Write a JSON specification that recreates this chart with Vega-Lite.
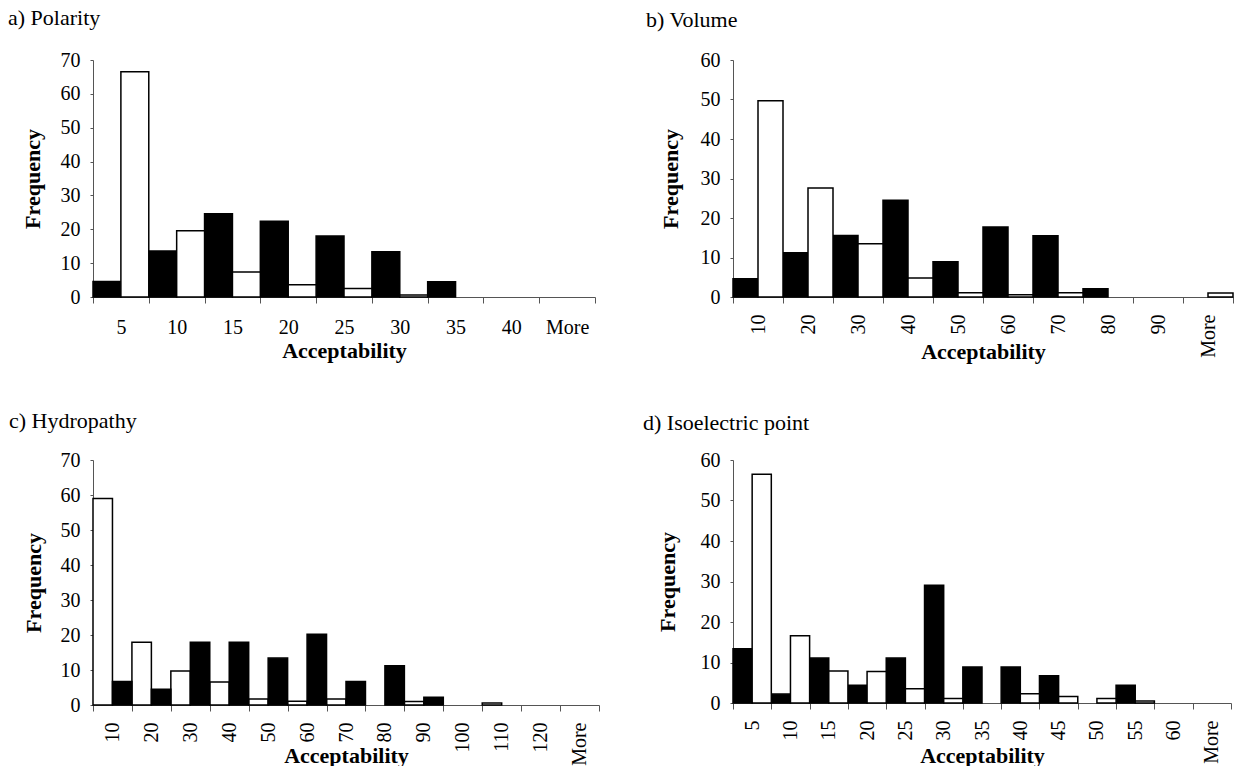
{
  "$schema": "https://vega.github.io/schema/vega-lite/v6.json",
  "background": "white",
  "padding": {"left": 8, "top": 7, "right": 5, "bottom": 0},
  "columns": 2,
  "bounds": "flush",
  "spacing": {"row": 163, "column": 134},
  "resolve": {"scale": {"x": "independent", "xOffset": "independent", "y": "independent", "fill": "independent"}},
  "data": {"values": [
    {"panel": "a", "bin": "5", "series": "Series 1", "freq": 4.6},
    {"panel": "a", "bin": "10", "series": "Series 1", "freq": 13.6},
    {"panel": "a", "bin": "15", "series": "Series 1", "freq": 24.6},
    {"panel": "a", "bin": "20", "series": "Series 1", "freq": 22.4},
    {"panel": "a", "bin": "25", "series": "Series 1", "freq": 18.0},
    {"panel": "a", "bin": "30", "series": "Series 1", "freq": 13.4},
    {"panel": "a", "bin": "35", "series": "Series 1", "freq": 4.5},
    {"panel": "a", "bin": "40", "series": "Series 1", "freq": 0},
    {"panel": "a", "bin": "More", "series": "Series 1", "freq": 0},
    {"panel": "a", "bin": "5", "series": "Series 2", "freq": 66.5},
    {"panel": "a", "bin": "10", "series": "Series 2", "freq": 19.6},
    {"panel": "a", "bin": "15", "series": "Series 2", "freq": 7.4},
    {"panel": "a", "bin": "20", "series": "Series 2", "freq": 3.6},
    {"panel": "a", "bin": "25", "series": "Series 2", "freq": 2.5},
    {"panel": "a", "bin": "30", "series": "Series 2", "freq": 0.6},
    {"panel": "a", "bin": "35", "series": "Series 2", "freq": 0},
    {"panel": "a", "bin": "40", "series": "Series 2", "freq": 0},
    {"panel": "a", "bin": "More", "series": "Series 2", "freq": 0},

    {"panel": "b", "bin": "10", "series": "Series 1", "freq": 4.6},
    {"panel": "b", "bin": "20", "series": "Series 1", "freq": 11.2},
    {"panel": "b", "bin": "30", "series": "Series 1", "freq": 15.6},
    {"panel": "b", "bin": "40", "series": "Series 1", "freq": 24.5},
    {"panel": "b", "bin": "50", "series": "Series 1", "freq": 8.9},
    {"panel": "b", "bin": "60", "series": "Series 1", "freq": 17.7},
    {"panel": "b", "bin": "70", "series": "Series 1", "freq": 15.5},
    {"panel": "b", "bin": "80", "series": "Series 1", "freq": 2.1},
    {"panel": "b", "bin": "90", "series": "Series 1", "freq": 0},
    {"panel": "b", "bin": "More", "series": "Series 1", "freq": 0},
    {"panel": "b", "bin": "10", "series": "Series 2", "freq": 49.7},
    {"panel": "b", "bin": "20", "series": "Series 2", "freq": 27.6},
    {"panel": "b", "bin": "30", "series": "Series 2", "freq": 13.5},
    {"panel": "b", "bin": "40", "series": "Series 2", "freq": 4.8},
    {"panel": "b", "bin": "50", "series": "Series 2", "freq": 1.1},
    {"panel": "b", "bin": "60", "series": "Series 2", "freq": 0.6},
    {"panel": "b", "bin": "70", "series": "Series 2", "freq": 1.1},
    {"panel": "b", "bin": "80", "series": "Series 2", "freq": 0},
    {"panel": "b", "bin": "90", "series": "Series 2", "freq": 0},
    {"panel": "b", "bin": "More", "series": "Series 2", "freq": 1.0},

    {"panel": "c", "bin": "10", "series": "Series 2", "freq": 59.0},
    {"panel": "c", "bin": "20", "series": "Series 2", "freq": 17.9},
    {"panel": "c", "bin": "30", "series": "Series 2", "freq": 9.7},
    {"panel": "c", "bin": "40", "series": "Series 2", "freq": 6.6},
    {"panel": "c", "bin": "50", "series": "Series 2", "freq": 1.7},
    {"panel": "c", "bin": "60", "series": "Series 2", "freq": 1.1},
    {"panel": "c", "bin": "70", "series": "Series 2", "freq": 1.7},
    {"panel": "c", "bin": "80", "series": "Series 2", "freq": 0},
    {"panel": "c", "bin": "90", "series": "Series 2", "freq": 1.0},
    {"panel": "c", "bin": "100", "series": "Series 2", "freq": 0},
    {"panel": "c", "bin": "110", "series": "Series 2", "freq": 0.6},
    {"panel": "c", "bin": "120", "series": "Series 2", "freq": 0},
    {"panel": "c", "bin": "More", "series": "Series 2", "freq": 0},
    {"panel": "c", "bin": "10", "series": "Series 1", "freq": 6.7},
    {"panel": "c", "bin": "20", "series": "Series 1", "freq": 4.5},
    {"panel": "c", "bin": "30", "series": "Series 1", "freq": 17.9},
    {"panel": "c", "bin": "40", "series": "Series 1", "freq": 17.9},
    {"panel": "c", "bin": "50", "series": "Series 1", "freq": 13.4},
    {"panel": "c", "bin": "60", "series": "Series 1", "freq": 20.2},
    {"panel": "c", "bin": "70", "series": "Series 1", "freq": 6.7},
    {"panel": "c", "bin": "80", "series": "Series 1", "freq": 11.2},
    {"panel": "c", "bin": "90", "series": "Series 1", "freq": 2.2},
    {"panel": "c", "bin": "100", "series": "Series 1", "freq": 0},
    {"panel": "c", "bin": "110", "series": "Series 1", "freq": 0},
    {"panel": "c", "bin": "120", "series": "Series 1", "freq": 0},
    {"panel": "c", "bin": "More", "series": "Series 1", "freq": 0},

    {"panel": "d", "bin": "5", "series": "Series 1", "freq": 13.4},
    {"panel": "d", "bin": "10", "series": "Series 1", "freq": 2.2},
    {"panel": "d", "bin": "15", "series": "Series 1", "freq": 11.1},
    {"panel": "d", "bin": "20", "series": "Series 1", "freq": 4.4},
    {"panel": "d", "bin": "25", "series": "Series 1", "freq": 11.1},
    {"panel": "d", "bin": "30", "series": "Series 1", "freq": 29.1},
    {"panel": "d", "bin": "35", "series": "Series 1", "freq": 8.9},
    {"panel": "d", "bin": "40", "series": "Series 1", "freq": 8.9},
    {"panel": "d", "bin": "45", "series": "Series 1", "freq": 6.7},
    {"panel": "d", "bin": "50", "series": "Series 1", "freq": 0},
    {"panel": "d", "bin": "55", "series": "Series 1", "freq": 4.4},
    {"panel": "d", "bin": "60", "series": "Series 1", "freq": 0},
    {"panel": "d", "bin": "More", "series": "Series 1", "freq": 0},
    {"panel": "d", "bin": "5", "series": "Series 2", "freq": 56.5},
    {"panel": "d", "bin": "10", "series": "Series 2", "freq": 16.6},
    {"panel": "d", "bin": "15", "series": "Series 2", "freq": 7.9},
    {"panel": "d", "bin": "20", "series": "Series 2", "freq": 7.8},
    {"panel": "d", "bin": "25", "series": "Series 2", "freq": 3.5},
    {"panel": "d", "bin": "30", "series": "Series 2", "freq": 1.1},
    {"panel": "d", "bin": "35", "series": "Series 2", "freq": 0},
    {"panel": "d", "bin": "40", "series": "Series 2", "freq": 2.3},
    {"panel": "d", "bin": "45", "series": "Series 2", "freq": 1.6},
    {"panel": "d", "bin": "50", "series": "Series 2", "freq": 1.1},
    {"panel": "d", "bin": "55", "series": "Series 2", "freq": 0.5},
    {"panel": "d", "bin": "60", "series": "Series 2", "freq": 0},
    {"panel": "d", "bin": "More", "series": "Series 2", "freq": 0}
  ]},
  "concat": [
    {
      "width": 502, "height": 237,
      "title": {"text": "a) Polarity", "dx": -85, "offset": 20},
      "transform": [{"filter": "datum.panel === 'a' && datum.freq > 0"}],
      "mark": {"type": "bar", "stroke": "black", "strokeWidth": 1.5},
      "encoding": {
        "x": {"field": "bin", "type": "nominal",
          "scale": {"domain": ["5", "10", "15", "20", "25", "30", "35", "40", "More"], "paddingInner": 0, "paddingOuter": 0},
          "axis": {"title": "Acceptability", "labelAngle": 0, "labelPadding": 14, "titleY": 60}},
        "xOffset": {"field": "series", "type": "nominal", "scale": {"domain": ["Series 1", "Series 2"], "paddingInner": 0, "paddingOuter": 0}},
        "y": {"field": "freq", "type": "quantitative", "scale": {"domain": [0, 70]},
          "axis": {"title": "Frequency", "values": [0, 10, 20, 30, 40, 50, 60, 70], "titleX": -54, "titleY": 118.5}},
        "fill": {"field": "series", "type": "nominal", "scale": {"domain": ["Series 1", "Series 2"], "range": ["#000000", "#ffffff"]}, "legend": null}
      }
    },
    {
      "width": 500, "height": 237,
      "title": {"text": "b) Volume", "dx": -87, "offset": 18},
      "transform": [{"filter": "datum.panel === 'b' && datum.freq > 0"}],
      "mark": {"type": "bar", "stroke": "black", "strokeWidth": 1.5},
      "encoding": {
        "x": {"field": "bin", "type": "nominal",
          "scale": {"domain": ["10", "20", "30", "40", "50", "60", "70", "80", "90", "More"], "paddingInner": 0, "paddingOuter": 0},
          "axis": {"title": "Acceptability", "labelAngle": -90, "labelPadding": 11, "titleY": 61}},
        "xOffset": {"field": "series", "type": "nominal", "scale": {"domain": ["Series 1", "Series 2"], "paddingInner": 0, "paddingOuter": 0}},
        "y": {"field": "freq", "type": "quantitative", "scale": {"domain": [0, 60]},
          "axis": {"title": "Frequency", "values": [0, 10, 20, 30, 40, 50, 60], "titleX": -56, "titleY": 118.5}},
        "fill": {"field": "series", "type": "nominal", "scale": {"domain": ["Series 1", "Series 2"], "range": ["#000000", "#ffffff"]}, "legend": null}
      }
    },
    {
      "width": 506, "height": 245,
      "title": {"text": "c) Hydropathy", "dx": -84, "offset": 17},
      "transform": [{"filter": "datum.panel === 'c' && datum.freq > 0"}],
      "mark": {"type": "bar", "stroke": "black", "strokeWidth": 1.5},
      "encoding": {
        "x": {"field": "bin", "type": "nominal",
          "scale": {"domain": ["10", "20", "30", "40", "50", "60", "70", "80", "90", "100", "110", "120", "More"], "paddingInner": 0, "paddingOuter": 0},
          "axis": {"title": "Acceptability", "labelAngle": -90, "labelPadding": 11, "titleY": 57}},
        "xOffset": {"field": "series", "type": "nominal", "scale": {"domain": ["Series 2", "Series 1"], "paddingInner": 0, "paddingOuter": 0}},
        "y": {"field": "freq", "type": "quantitative", "scale": {"domain": [0, 70]},
          "axis": {"title": "Frequency", "values": [0, 10, 20, 30, 40, 50, 60, 70], "titleX": -53, "titleY": 122.5}},
        "fill": {"field": "series", "type": "nominal", "scale": {"domain": ["Series 1", "Series 2"], "range": ["#000000", "#ffffff"]}, "legend": null}
      }
    },
    {
      "width": 498, "height": 243,
      "title": {"text": "d) Isoelectric point", "dx": -90, "offset": 15},
      "transform": [{"filter": "datum.panel === 'd' && datum.freq > 0"}],
      "mark": {"type": "bar", "stroke": "black", "strokeWidth": 1.5},
      "encoding": {
        "x": {"field": "bin", "type": "nominal",
          "scale": {"domain": ["5", "10", "15", "20", "25", "30", "35", "40", "45", "50", "55", "60", "More"], "paddingInner": 0, "paddingOuter": 0},
          "axis": {"title": "Acceptability", "labelAngle": -90, "labelPadding": 11, "titleY": 59}},
        "xOffset": {"field": "series", "type": "nominal", "scale": {"domain": ["Series 1", "Series 2"], "paddingInner": 0, "paddingOuter": 0}},
        "y": {"field": "freq", "type": "quantitative", "scale": {"domain": [0, 60]},
          "axis": {"title": "Frequency", "values": [0, 10, 20, 30, 40, 50, 60], "titleX": -59, "titleY": 121.5}},
        "fill": {"field": "series", "type": "nominal", "scale": {"domain": ["Series 1", "Series 2"], "range": ["#000000", "#ffffff"]}, "legend": null}
      }
    }
  ],
  "config": {
    "font": "Liberation Serif",
    "view": {"stroke": null},
    "title": {"font": "Liberation Serif", "fontSize": 22, "fontWeight": "normal", "color": "#000000", "anchor": "start", "frame": "group"},
    "axis": {
      "labelFont": "Liberation Serif", "labelFontSize": 20, "labelColor": "#000000",
      "titleFont": "Liberation Serif", "titleFontSize": 22, "titleFontWeight": "bold", "titleColor": "#000000",
      "grid": false, "domainColor": "#555555", "tickColor": "#555555", "domainWidth": 1, "tickWidth": 1,
      "labelOverlap": false, "labelBound": false, "labelFlush": false, "titleBaseline": "alphabetic"
    },
    "axisX": {"tickBand": "extent", "tickSize": 6},
    "axisY": {"tickSize": 3, "labelPadding": 10, "titleAngle": -90}
  }
}
